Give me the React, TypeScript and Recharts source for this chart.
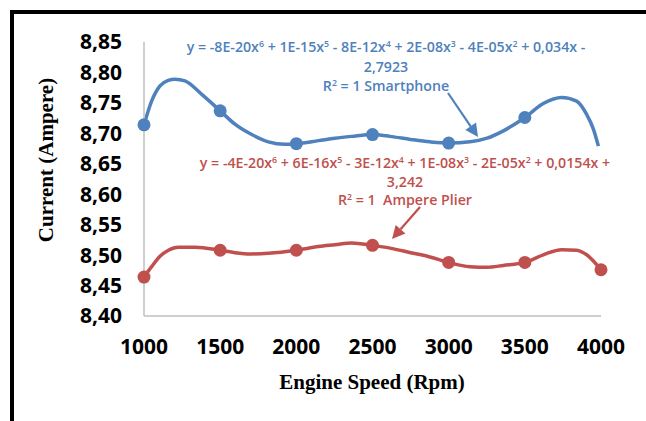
import React from "react";
import { ComposedChart, Line, XAxis, YAxis, Customized } from "recharts";

// Category / tick values
const rpmTicks = [1000, 1500, 2000, 2500, 3000, 3500, 4000];
const currentTicks = [8.4, 8.45, 8.5, 8.55, 8.6, 8.65, 8.7, 8.75, 8.8, 8.85];

// Measured points
const smartphoneRpm = [1000, 1500, 2000, 2500, 3000, 3500];
const smartphoneCurrent = [8.714, 8.737, 8.683, 8.698, 8.684, 8.726];
const plierRpm = [1000, 1500, 2000, 2500, 3000, 3500, 4000];
const plierCurrent = [8.464, 8.508, 8.508, 8.516, 8.488, 8.488, 8.476];

// Trendline curves
const smartTrendRpm = [1000, 1050, 1105, 1160, 1203, 1269, 1379, 1500, 1597, 1707, 1816, 1926, 2000, 2145, 2254, 2363, 2500, 2615, 2750, 2877, 3000, 3140, 3252, 3359, 3500, 3621, 3742, 3840, 3906, 3950, 3983];
const smartTrendCurrent = [8.714, 8.753, 8.778, 8.787, 8.789, 8.786, 8.764, 8.737, 8.715, 8.698, 8.686, 8.682, 8.683, 8.688, 8.692, 8.695, 8.698, 8.695, 8.69, 8.686, 8.684, 8.686, 8.692, 8.704, 8.726, 8.749, 8.759, 8.753, 8.731, 8.707, 8.679];
const plierTrendRpm = [1000, 1050, 1105, 1160, 1225, 1335, 1500, 1597, 1707, 1816, 2000, 2145, 2254, 2363, 2500, 2615, 2750, 2877, 3000, 3140, 3252, 3359, 3500, 3621, 3742, 3840, 3906, 4000];
const plierTrendCurrent = [8.464, 8.481, 8.498, 8.508, 8.513, 8.513, 8.508, 8.504, 8.502, 8.503, 8.508, 8.514, 8.517, 8.52, 8.516, 8.5115, 8.504, 8.497, 8.488, 8.481, 8.48, 8.483, 8.488, 8.5005, 8.509, 8.508, 8.5005, 8.476];

// Annotation texts
const smartEq = ["y = -8E-20x^6 + 1E-15x^5 - 8E-12x^4 + 2E-08x^3 - 4E-05x^2 + 0,034x -", "2,7923", "R^2 = 1 Smartphone"];
const plierEq = ["y = -4E-20x^6 + 6E-16x^5 - 3E-12x^4 + 1E-08x^3 - 2E-05x^2 + 0,0154x +", "3,242", "R^2 = 1 \u00a0Ampere Plier"];

const BLUE = "#4F81BD";
const RED = "#C0504D";

const zip = (xs: number[], ys: number[]) => xs.map((x, i) => ({ rpm: x, current: ys[i] }));

const smartDots = zip(smartphoneRpm, smartphoneCurrent);
const plierDots = zip(plierRpm, plierCurrent);
const smartTrend = zip(smartTrendRpm, smartTrendCurrent);
const plierTrend = zip(plierTrendRpm, plierTrendCurrent);

const fmt = (v: number) => v.toFixed(2).replace(".", ",");

function renderSup(s: string, size: number) {
  const parts = s.split(/\^(\d)/);
  const out: React.ReactNode[] = [];
  let raised = false;
  parts.forEach((p, i) => {
    if (i % 2 === 1) {
      out.push(
        <tspan key={i} dy={-size * 0.35} fontSize={size * 0.62}>
          {p}
        </tspan>
      );
      raised = true;
    } else if (p.length) {
      out.push(
        <tspan key={i} dy={raised ? size * 0.35 : 0}>
          {p}
        </tspan>
      );
      raised = false;
    }
  });
  return out;
}

const EQ_SIZE = 14.2;

function EqBlock({ lines, cx, cys, color }: { lines: string[]; cx: number; cys: number[]; color: string }) {
  return (
    <g>
      {lines.map((l, i) => (
        <text
          key={i}
          x={cx}
          y={cys[i] + EQ_SIZE * 0.36}
          textAnchor="middle"
          fill={color}
          fontFamily="'Open Sans', sans-serif"
          fontWeight={600}
          fontSize={EQ_SIZE}
        >
          {renderSup(l, EQ_SIZE)}
        </text>
      ))}
    </g>
  );
}

function Arrow({ x1, y1, x2, y2, color }: { x1: number; y1: number; x2: number; y2: number; color: string }) {
  const ang = Math.atan2(y2 - y1, x2 - x1);
  const L = 13;
  const W = 6.5;
  const bx = x2 - L * Math.cos(ang);
  const by = y2 - L * Math.sin(ang);
  const px = -Math.sin(ang) * W;
  const py = Math.cos(ang) * W;
  return (
    <g>
      <line x1={x1} y1={y1} x2={bx} y2={by} stroke={color} strokeWidth={2.2} />
      <polygon points={`${x2},${y2} ${bx + px},${by + py} ${bx - px},${by - py}`} fill={color} />
    </g>
  );
}

function Annotations() {
  return (
    <g>
      <EqBlock lines={smartEq} cx={386} cys={[47, 67, 86]} color={BLUE} />
      <EqBlock lines={plierEq} cx={405} cys={[163, 182, 200]} color={RED} />
      <Arrow x1={448} y1={93} x2={478} y2={137} color={BLUE} />
      <Arrow x1={420} y1={207} x2={392} y2={239} color={RED} />
      <text
        x={46}
        y={160}
        transform="rotate(-90 46 160)"
        textAnchor="middle"
        dy="0.35em"
        fontFamily="'Liberation Serif', serif"
        fontWeight="bold"
        fontSize={21}
        fill="#000"
      >
        Current (Ampere)
      </text>
      <text
        x={372}
        y={382}
        textAnchor="middle"
        dy="0.35em"
        fontFamily="'Liberation Serif', serif"
        fontWeight="bold"
        fontSize={21}
        fill="#000"
      >
        Engine Speed (Rpm)
      </text>
    </g>
  );
}

const tickStyle = { fontFamily: "'Open Sans', sans-serif", fontWeight: 700, fontSize: 21, fill: "#000" };

export default function App() {
  return (
    <div style={{ position: "absolute", left: 0, top: 0, width: 646, height: 421, background: "#fff" }}>
      <div
        style={{
          position: "absolute",
          left: 10,
          top: 10,
          right: 0,
          bottom: 0,
          borderTop: "4px solid #000",
          borderLeft: "4px solid #000",
        }}
      />
      <ComposedChart
        width={646}
        height={421}
        margin={{ top: 42, right: 45, bottom: 75, left: 0 }}
        style={{ position: "absolute", left: 0, top: 0 }}
      >
        <XAxis
          type="number"
          dataKey="rpm"
          domain={[1000, 4000]}
          ticks={rpmTicks}
          height={30}
          tickLine={false}
          tickSize={0}
          tickMargin={23}
          axisLine={{ stroke: "#BFBFBF", strokeWidth: 1.5 }}
          tick={tickStyle}
          interval={0}
        />
        <YAxis
          type="number"
          dataKey="current"
          width={144}
          domain={[8.4, 8.85]}
          ticks={currentTicks}
          tickLine={false}
          tickSize={0}
          tickMargin={22}
          tickFormatter={fmt}
          axisLine={{ stroke: "#BFBFBF", strokeWidth: 1.5 }}
          tick={tickStyle}
          interval={0}
        />
        <Line data={smartTrend} dataKey="current" type="monotone" stroke={BLUE} strokeWidth={3.5} dot={false} activeDot={false} isAnimationActive={false} />
        <Line data={plierTrend} dataKey="current" type="monotone" stroke={RED} strokeWidth={3.5} dot={false} activeDot={false} isAnimationActive={false} />
        <Line data={smartDots} dataKey="current" stroke="none" dot={{ r: 6.5, fill: BLUE, stroke: BLUE, strokeWidth: 0 }} activeDot={false} isAnimationActive={false} />
        <Line data={plierDots} dataKey="current" stroke="none" dot={{ r: 6.5, fill: RED, stroke: RED, strokeWidth: 0 }} activeDot={false} isAnimationActive={false} />
        <Customized component={<Annotations />} />
      </ComposedChart>
    </div>
  );
}
